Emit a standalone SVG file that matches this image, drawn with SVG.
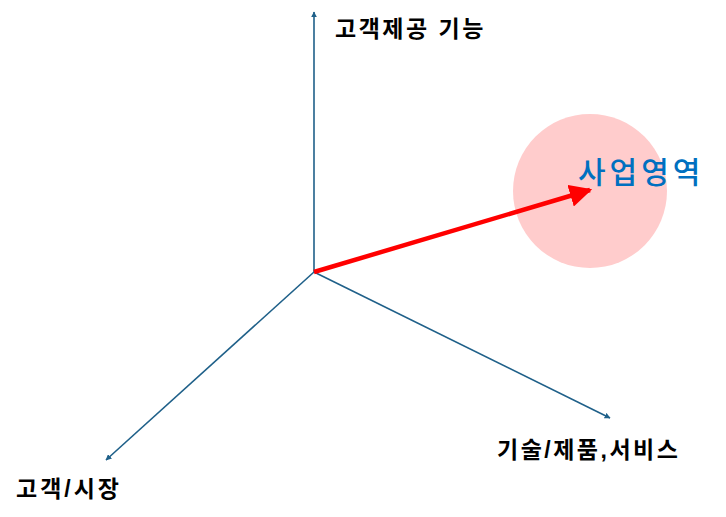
<svg xmlns="http://www.w3.org/2000/svg" width="726" height="517" viewBox="0 0 726 517">
<style>
.ax{stroke:#1F6089;stroke-width:1.6;fill:none}
.lbl{font-family:"Liberation Sans","Noto Sans CJK KR",sans-serif;font-weight:bold;font-size:23px;letter-spacing:2.5px;fill:#000}
</style>
<defs>
<marker id="ah" viewBox="0 0 10 10" refX="9" refY="5" markerWidth="6" markerHeight="6" orient="auto" markerUnits="userSpaceOnUse"><path d="M0,0 L10,5 L0,10 z" fill="#1F6089"/></marker>
<marker id="rh" viewBox="0 0 10 10" refX="9" refY="5" markerWidth="5" markerHeight="5" orient="auto"><path d="M0,0 L10,5 L0,10 z" fill="#FF0000"/></marker>
</defs>
<rect width="726" height="517" fill="#fff"/>
<g id="area">
<circle cx="590" cy="191" r="77" fill="#FFCCCC"/>
<text x="578" y="183" font-family="'Noto Sans CJK KR','Liberation Sans',sans-serif" font-weight="500" font-size="30" letter-spacing="4" fill="#0070C0">사업영역</text>
</g>
<g id="connectors">
<line class="ax" x1="314" y1="272" x2="314" y2="12" marker-end="url(#ah)"/>
<line class="ax" x1="314" y1="272" x2="610" y2="418" marker-end="url(#ah)"/>
<line class="ax" x1="314" y1="272" x2="106" y2="460" marker-end="url(#ah)"/>
<line x1="314" y1="272" x2="590" y2="190" stroke="#FF0000" stroke-width="4.5" marker-end="url(#rh)"/>
</g>
<g id="label-top"><text class="lbl" x="335" y="37">고객제공 기능</text></g>
<g id="label-right"><text class="lbl" x="497" y="458">기술/제품,서비스</text></g>
<g id="label-left"><text class="lbl" x="16" y="497" style="letter-spacing:3px">고객/시장</text></g>
</svg>
